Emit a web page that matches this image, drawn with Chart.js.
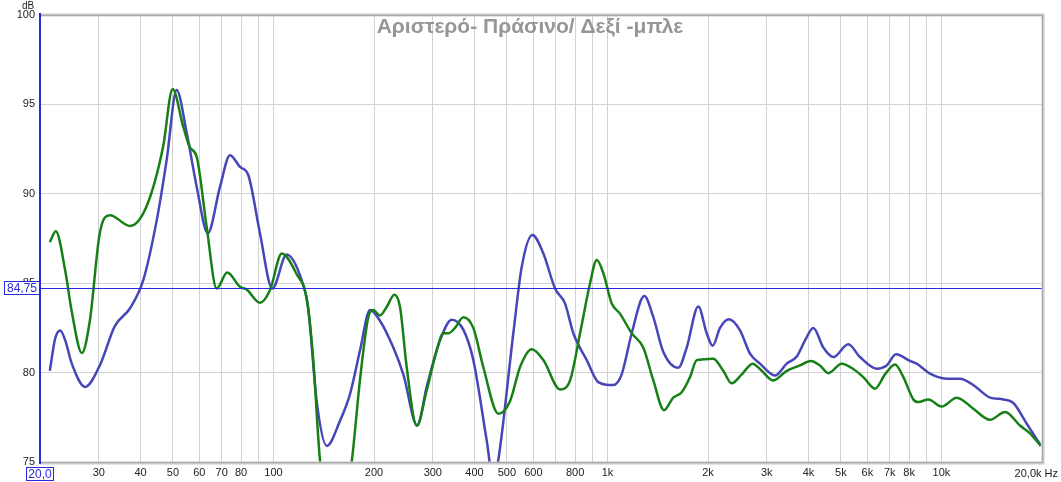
<!DOCTYPE html>
<html>
<head>
<meta charset="utf-8">
<script src="https://cdn.jsdelivr.net/npm/chart.js@4.4.1/dist/chart.umd.min.js"></script>
<style>
html,body{margin:0;padding:0;background:#fff;}
#wrap{width:1061px;height:482px;position:relative;}
</style>
</head>
<body>
<div id="wrap"><canvas id="c" width="1061" height="482"></canvas></div>
<script>
const chartTitle = 'Αριστερό- Πράσινο/ Δεξί -μπλε';
const yTickValues = [75, 80, 85, 90, 95, 100];
const xTickValues = [20, 30, 40, 50, 60, 70, 80, 90, 100, 200, 300, 400, 500, 600, 700, 800, 900,
  1000, 2000, 3000, 4000, 5000, 6000, 7000, 8000, 9000, 10000, 20000];
const xTickLabels = ['', '30', '40', '50', '60', '70', '80', '', '100', '200', '300', '400', '500', '600', '', '800', '',
  '1k', '2k', '3k', '4k', '5k', '6k', '7k', '8k', '', '10k', ''];
const markerLevel = 84.75;
const markerLabel = '84,75';
const startLabel = '20,0';
const endLabel = '20,0k Hz';

const greenFreq = [21.4, 22.3, 23.8, 24.9, 26.7, 28.2, 30.2, 32.4, 37.2, 41.7, 46.7, 49.9, 53.7, 56.2, 58.9, 63.1, 67.6, 72.7, 79.4, 83.2, 91.1, 97.6, 105.9, 117.4, 125.8, 131.6, 137.8, 153.9, 171.5, 181.6, 192.3, 199.0, 208.4, 218.3, 230.1, 239.3, 250.6, 268.4, 287.6, 308.1, 322.5, 333.8, 349.6, 370.2, 396.6, 425.0, 471.4, 510.8, 547.2, 593.2, 642.8, 721.2, 772.6, 827.8, 887.0, 928.8, 972.4, 1030, 1090, 1182, 1280, 1372, 1477, 1574, 1668, 1767, 1850, 1936, 2074, 2222, 2355, 2524, 2722, 2896, 3138, 3441, 3771, 4060, 4329, 4584, 5028, 5445, 5834, 6325, 6776, 7261, 7691, 8239, 8528, 9134, 10018, 11109, 12456, 13978, 15502, 17187, 18414, 19822];
const greenDb = [87.3, 87.9, 85.7, 83.4, 81.1, 82.9, 87.8, 88.8, 88.2, 89.3, 92.6, 95.86, 93.75, 92.6, 92.07, 88.15, 84.7, 85.6, 84.8, 84.64, 83.9, 84.6, 86.66, 85.5, 84.1, 80.7, 75.1, 70.0, 75.0, 79.6, 83.1, 83.5, 83.2, 83.67, 84.36, 83.67, 80.3, 77.04, 79.0, 81.24, 82.2, 82.2, 82.5, 83.1, 82.5, 80.3, 77.7, 78.4, 80.3, 81.3, 80.7, 79.06, 79.56, 82.2, 85.0, 86.3, 85.55, 83.86, 83.3, 82.2, 81.4, 79.56, 77.9, 78.6, 78.9, 79.75, 80.7, 80.74, 80.78, 80.1, 79.4, 79.9, 80.5, 80.1, 79.56, 80.1, 80.4, 80.65, 80.4, 79.97, 80.5, 80.2, 79.75, 79.1, 79.9, 80.46, 79.75, 78.5, 78.35, 78.5, 78.1, 78.6, 77.98, 77.36, 77.8, 77.04, 76.6, 75.9];

const blueFreq = [21.4, 22.2, 23.0, 23.8, 24.9, 27.3, 30.2, 33.5, 37.2, 40.8, 44.7, 47.9, 51.3, 55.0, 58.9, 63.6, 69.2, 74.1, 79.4, 84.1, 91.1, 99.2, 109.6, 121.5, 127.1, 134.7, 144.4, 158.2, 169.5, 181.6, 194.6, 208.4, 228.5, 244.8, 269.6, 287.6, 315.3, 341.8, 370.2, 396.6, 435.0, 455.2, 470.2, 522.6, 553.6, 595.8, 642.8, 696.8, 746.6, 790.4, 867.0, 939.0, 1041, 1103, 1182, 1289, 1372, 1470, 1630, 1727, 1871, 1982, 2066, 2173, 2312, 2494, 2672, 2863, 3175, 3441, 3688, 3904, 4134, 4429, 4745, 5262, 5702, 6400, 6855, 7311, 8052, 8431, 9243, 10370, 11366, 12456, 13978, 15322, 16417, 18003, 19727];
const blueDb = [80.1, 81.9, 82.36, 81.8, 80.5, 79.2, 80.4, 82.6, 83.6, 85.2, 88.5, 91.9, 95.8, 93.4, 90.4, 87.8, 90.4, 92.16, 91.5, 91.04, 87.8, 84.7, 86.6, 85.16, 83.6, 78.4, 75.9, 77.3, 78.8, 81.24, 83.5, 82.9, 81.4, 79.9, 77.04, 79.2, 81.8, 82.96, 82.4, 80.7, 76.2, 74.0, 75.0, 82.2, 85.9, 87.7, 86.66, 84.7, 83.86, 82.2, 80.7, 79.47, 79.3, 79.9, 82.2, 84.28, 83.1, 81.15, 80.27, 81.4, 83.7, 82.2, 81.5, 82.5, 82.98, 82.36, 81.06, 80.5, 79.84, 80.5, 80.9, 81.8, 82.5, 81.4, 80.87, 81.58, 80.87, 80.22, 80.4, 81.02, 80.65, 80.5, 79.94, 79.66, 79.66, 79.3, 78.6, 78.5, 78.3, 77.14, 76.0];

const GREEN = 'rgb(22,128,22)';
const BLUE = 'rgb(70,70,185)';
const AXIS_BLUE = 'rgb(40,40,220)';
const FONT = '"Liberation Sans", Arial, sans-serif';

function toPoints(xs, ys) { return xs.map((x, i) => ({ x: x, y: ys[i] })); }

const overlay = {
  id: 'overlay',
  beforeDatasetsDraw(chart) {
    const ctx = chart.ctx;
    ctx.save();
    ctx.font = 'bold 21px ' + FONT;
    ctx.fillStyle = 'rgb(150,150,150)';
    ctx.textAlign = 'center';
    ctx.textBaseline = 'alphabetic';
    ctx.fillText(chartTitle, 530, 33);
    ctx.restore();
  },
  afterDatasetsDraw(chart) {
    const ctx = chart.ctx, a = chart.chartArea;
    const y = chart.scales.y.getPixelForValue(markerLevel);
    ctx.save();
    ctx.strokeStyle = AXIS_BLUE;
    ctx.lineWidth = 1;
    ctx.beginPath();
    ctx.moveTo(a.left, Math.round(y) + 0.5);
    ctx.lineTo(a.right, Math.round(y) + 0.5);
    ctx.stroke();
    ctx.restore();
  },
  afterDraw(chart) {
    const ctx = chart.ctx, a = chart.chartArea;
    ctx.save();
    // frame
    ctx.strokeStyle = 'rgb(200,200,200)';
    ctx.lineWidth = 3;
    ctx.beginPath();
    ctx.moveTo(a.left, a.top);
    ctx.lineTo(a.right + 1, a.top);
    ctx.lineTo(a.right + 1, a.bottom + 1);
    ctx.lineTo(a.left, a.bottom + 1);
    ctx.stroke();
    ctx.strokeStyle = 'rgb(170,170,170)';
    ctx.lineWidth = 1;
    ctx.beginPath();
    ctx.moveTo(a.left, a.top + 0.5);
    ctx.lineTo(a.right + 0.5, a.top + 0.5);
    ctx.lineTo(a.right + 0.5, a.bottom + 0.5);
    ctx.lineTo(a.left, a.bottom + 0.5);
    ctx.stroke();
    // left axis
    ctx.strokeStyle = AXIS_BLUE;
    ctx.lineWidth = 2;
    ctx.beginPath();
    ctx.moveTo(a.left, a.top - 2);
    ctx.lineTo(a.left, a.bottom + 2);
    ctx.stroke();

    // marker box
    const my = Math.round(chart.scales.y.getPixelForValue(markerLevel));
    ctx.font = '12px ' + FONT;
    ctx.fillStyle = '#fff';
    ctx.fillRect(4.5, my - 6.5, 35, 13);
    ctx.strokeStyle = AXIS_BLUE;
    ctx.lineWidth = 1;
    ctx.strokeRect(4.5, my - 6.5, 35, 13);
    ctx.fillStyle = AXIS_BLUE;
    ctx.textAlign = 'center';
    ctx.textBaseline = 'middle';
    ctx.fillText(markerLabel, 22, my + 0.5);

    // start box
    ctx.fillStyle = '#fff';
    ctx.fillRect(26.5, 467.5, 27, 13);
    ctx.strokeRect(26.5, 467.5, 27, 13);
    ctx.fillStyle = AXIS_BLUE;
    ctx.fillText(startLabel, 40, 474.5);

    // end label
    ctx.font = '11px ' + FONT;
    ctx.fillStyle = '#222';
    ctx.textAlign = 'right';
    ctx.fillText(endLabel, 1058, 474);

    // dB label
    ctx.font = '10px ' + FONT;
    ctx.textAlign = 'center';
    ctx.fillText('dB', 28, 6);
    ctx.restore();
  }
};

Chart.defaults.font.family = FONT;
Chart.defaults.font.size = 11;
Chart.defaults.color = '#222';

new Chart(document.getElementById('c'), {
  type: 'line',
  data: {
    datasets: [
      { label: 'Αριστερό', data: toPoints(greenFreq, greenDb), borderColor: GREEN, borderWidth: 2.5,
        pointRadius: 0, fill: false, cubicInterpolationMode: 'monotone' },
      { label: 'Δεξί', data: toPoints(blueFreq, blueDb), borderColor: BLUE, borderWidth: 2.5,
        pointRadius: 0, fill: false, cubicInterpolationMode: 'monotone' }
    ]
  },
  options: {
    responsive: false,
    animation: false,
    events: [],
    layout: { padding: { left: 0, top: 15, right: 19, bottom: 0 } },
    plugins: { legend: { display: false }, tooltip: { enabled: false }, title: { display: false } },
    scales: {
      x: {
        type: 'logarithmic',
        min: 20, max: 20000,
        afterBuildTicks(scale) { scale.ticks = xTickValues.map(v => ({ value: v })); },
        afterFit(scale) { scale.height = 20; },
        ticks: {
          autoSkip: false, maxRotation: 0, minRotation: 0, padding: 4,
          callback(value) { const i = xTickValues.indexOf(value); return i >= 0 ? xTickLabels[i] : ''; }
        },
        grid: { color: 'rgb(210,210,210)', lineWidth: 1, drawTicks: false },
        border: { display: false }
      },
      y: {
        type: 'linear',
        min: 75, max: 100,
        afterBuildTicks(scale) { scale.ticks = yTickValues.map(v => ({ value: v })); },
        afterFit(scale) { scale.width = 40; },
        ticks: { padding: 5, callback(v) { return String(v); } },
        grid: { color: 'rgb(210,210,210)', lineWidth: 1, drawTicks: false },
        border: { display: false }
      }
    }
  },
  plugins: [overlay]
});
</script>
</body>
</html>
